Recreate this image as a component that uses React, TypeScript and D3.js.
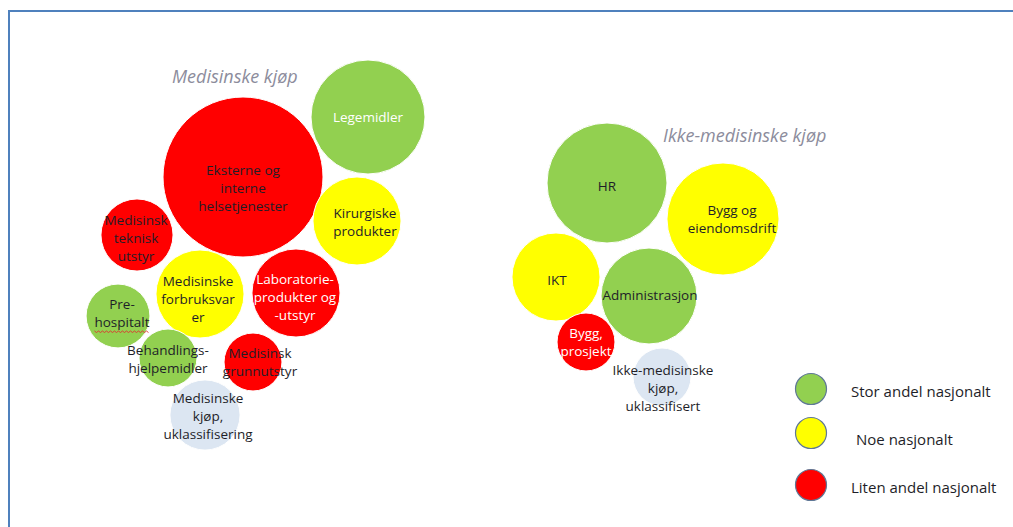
import React, { useEffect, useRef } from 'react';
import * as d3 from 'd3';

// ---------- data ----------
const groupTitles = ['Medisinske kjøp', 'Ikke-medisinske kjøp'];
const categoryNames = ['Stor andel nasjonalt', 'Noe nasjonalt', 'Liten andel nasjonalt'];

const bubbleLabels = [
  'Legemidler',
  'Eksterne og\ninterne\nhelsetjenester',
  'Kirurgiske\nprodukter',
  'Medisinsk\nteknisk\nutstyr',
  'Medisinske\nforbruksvar\ner',
  'Laboratorie-\nprodukter og\n-utstyr',
  'Pre-\nhospitalt',
  'Behandlings-\nhjelpemidler',
  'Medisinsk\ngrunnutstyr',
  'Medisinske\nkjøp,\nuklassifisering',
  'HR',
  'Bygg og\neiendomsdrift',
  'IKT',
  'Administrasjon',
  'Bygg,\nprosjekt',
  'Ikke-medisinske\nkjøp,\nuklassifisert',
];
const bubbleGroup = [0, 0, 0, 0, 0, 0, 0, 0, 0, 0, 1, 1, 1, 1, 1, 1];
const bubbleX = [35.8, 23.3, 34.7, 12.7, 19.0, 28.6, 10.8, 15.8, 24.3, 19.5, 59.7, 71.3, 54.6, 63.9, 57.6, 65.2];
const bubbleY = [39.3, 33.3, 28.9, 27.5, 21.6, 21.7, 19.4, 15.2, 14.8, 9.5, 32.7, 29.1, 23.3, 21.4, 16.8, 13.3];
const bubbleSize = [32.5, 64, 19.4, 13, 19.4, 19.4, 10.2, 8.4, 8.4, 12.3, 36, 31.4, 19.4, 23, 8.4, 8.4];
// 0 = stor andel, 1 = noe, 2 = liten andel, 3 = uklassifisert
const bubbleCategory = [0, 2, 1, 2, 1, 2, 0, 0, 2, 3, 0, 1, 1, 0, 2, 3];

// ---------- layout / style ----------
const W = 1013;
const H = 527;
const categoryColors = ['#92d050', '#ffff00', '#ff0000', '#dce6f2'];
const whiteLabelIdx = new Set([0, 5, 14]);
const labelOffsets: [number, number][] = [
  [0, 0], [0, 11], [8, 1], [-1, 3], [-2, 5], [-1, 4], [4, -3], [0, 1],
  [7, 0], [3, 1], [0, 3], [9, 0], [1, 3], [1, -1], [0, 0], [1, 11],
];
const titlePos: [number, number][] = [[172, 83], [663, 142]];
const FONT = '"Open Sans", "Noto Sans", sans-serif';

export default function App() {
  const ref = useRef<SVGSVGElement>(null);

  useEffect(() => {
    const svg = d3.select(ref.current);
    svg.selectAll('*').remove();

    const x = d3.scaleLinear().domain([0, 100]).range([10, 1010]);
    const y = d3.scaleLinear().domain([0, 50]).range([510, 10]);
    const r = d3.scaleSqrt().domain([0, 64]).range([0, 80]);

    svg.append('rect').attr('width', W).attr('height', H).attr('fill', '#ffffff');

    // frame
    svg.append('line').attr('x1', 8).attr('x2', W).attr('y1', 11).attr('y2', 11)
      .attr('stroke', '#4f81bd').attr('stroke-width', 2);
    svg.append('line').attr('x1', 9).attr('x2', 9).attr('y1', 10).attr('y2', H)
      .attr('stroke', '#4f81bd').attr('stroke-width', 2);

    const idx = d3.range(bubbleLabels.length);

    // titles
    groupTitles.forEach((t, i) => {
      svg.append('text').attr('x', titlePos[i][0]).attr('y', titlePos[i][1])
        .attr('font-family', FONT).attr('font-style', 'italic').attr('font-size', 18)
        .attr('fill', '#8c8c9c').text(t);
    });

    // bubbles
    svg.append('g').selectAll('circle').data(idx).join('circle')
      .attr('cx', (i) => x(bubbleX[i]))
      .attr('cy', (i) => y(bubbleY[i]))
      .attr('r', (i) => r(bubbleSize[i]))
      .attr('fill', (i) => categoryColors[bubbleCategory[i]])
      .attr('stroke', '#ffffff').attr('stroke-width', 1);

    // labels
    const lineH = 18;
    const lg = svg.append('g');
    idx.forEach((i) => {
      const lines = bubbleLabels[i].split('\n');
      const cx = x(bubbleX[i]) + labelOffsets[i][0];
      const cy = y(bubbleY[i]) + labelOffsets[i][1];
      const t = lg.append('text')
        .attr('font-family', FONT).attr('font-size', 13.5)
        .attr('text-anchor', 'middle')
        .attr('fill', whiteLabelIdx.has(i) ? '#ffffff' : '#1e1e28');
      lines.forEach((ln, k) => {
        t.append('tspan').attr('x', cx)
          .attr('y', cy + (k - (lines.length - 1) / 2) * lineH)
          .attr('dy', '0.35em').text(ln);
      });
      // spell-check squiggle under "hospitalt"
      if (lines[lines.length - 1] === 'hospitalt') {
        const node = t.selectAll<SVGTSpanElement, unknown>('tspan').nodes()[lines.length - 1];
        const w = node.getComputedTextLength();
        const baseY = cy + ((lines.length - 1) / 2) * lineH + 9;
        const pts: [number, number][] = d3.range(0, Math.floor(w / 2) + 1).map((k) => [cx - w / 2 + k * 2, baseY + (k % 2 === 0 ? 0 : 1.5)]);
        lg.append('path').attr('d', d3.line()(pts) as string)
          .attr('fill', 'none').attr('stroke', '#e03030').attr('stroke-width', 0.9);
      }
    });

    // legend
    const legY = [389, 433, 485];
    const legTextDx = [0, 5, 0];
    const legTextDy = [3, 7, 3];
    const leg = svg.append('g');
    categoryNames.forEach((name, i) => {
      leg.append('circle').attr('cx', 811).attr('cy', legY[i]).attr('r', 15.5)
        .attr('fill', categoryColors[i]).attr('stroke', '#5f7896').attr('stroke-width', 1.2);
      leg.append('text').attr('x', 851 + legTextDx[i]).attr('y', legY[i] + legTextDy[i])
        .attr('dy', '0.35em').attr('font-family', FONT).attr('font-size', 15)
        .attr('fill', '#1e1e28').text(name);
    });
  }, []);

  return (
    <svg ref={ref} width={W} height={H}
      style={{ position: 'absolute', left: 0, top: 0, display: 'block' }} />
  );
}
